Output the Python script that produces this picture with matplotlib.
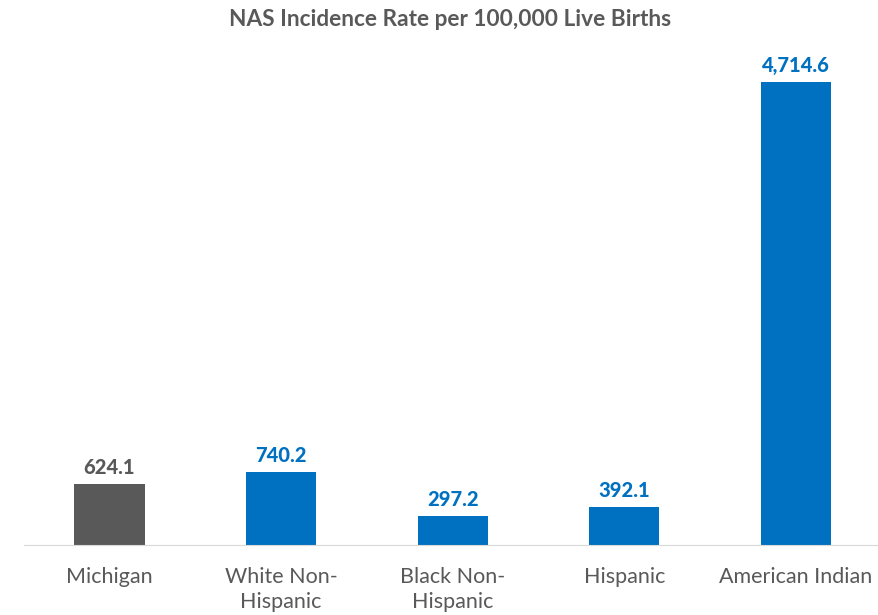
import matplotlib.pyplot as plt

categories = ["Michigan", "White Non-\nHispanic", "Black Non-\nHispanic", "Hispanic", "American Indian"]
rates = [624.1, 740.2, 297.2, 392.1, 4714.6]
bar_colors = ["#595959", "#0070C0", "#0070C0", "#0070C0", "#0070C0"]

plt.rcParams['font.family'] = ['Lato', 'DejaVu Sans']

fig = plt.figure(figsize=(8.79, 6.15), dpi=100)
ax = fig.add_axes([0.027, 0.1138, 0.976, 0.798])

x = range(len(categories))
bars = ax.bar(x, rates, width=0.41, color=bar_colors)

for bar, val, c in zip(bars, rates, bar_colors):
    ax.text(bar.get_x() + bar.get_width() / 2, val + 70, f"{val:,.1f}",
            ha='center', va='bottom', fontsize=14.5, fontweight='black', color=c)

ax.set_xlim(-0.5, 4.5)
ax.set_ylim(0, 5000)
ax.set_xticks(list(x))
ax.set_xticklabels(categories, fontsize=15.5, color="#595959", linespacing=1.27)
ax.tick_params(axis='x', length=0, pad=16)
ax.set_yticks([])
for side in ['top', 'right', 'left']:
    ax.spines[side].set_visible(False)
ax.spines['bottom'].set_color("#D9D9D9")

fig.text(0.512, 0.968, "NAS Incidence Rate per 100,000 Live Births", ha='center', va='center',
         fontsize=16.3, fontweight='bold', color="#595959")

fig.savefig("out.png", dpi=100)
